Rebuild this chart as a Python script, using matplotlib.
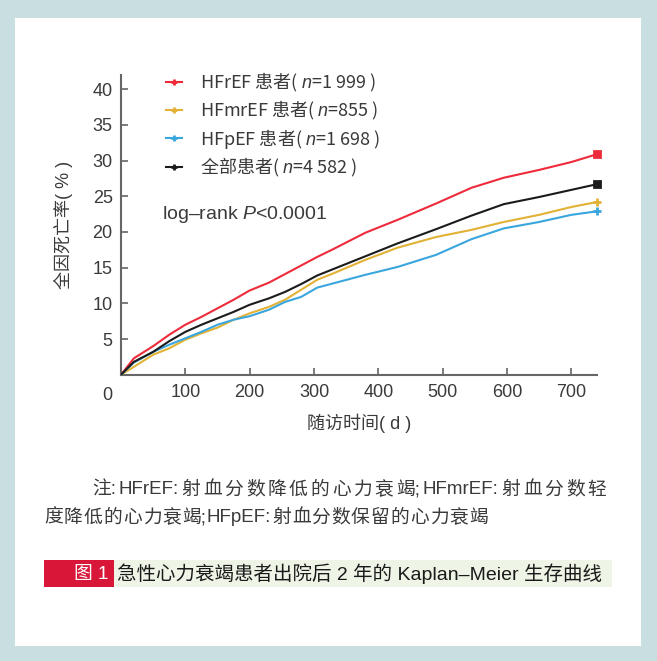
import re
import matplotlib
matplotlib.use("Agg")
import matplotlib.pyplot as plt
from matplotlib.lines import Line2D
from matplotlib.patches import Rectangle

plt.rcParams['font.family'] = ['Liberation Sans', 'Noto Sans CJK SC', 'DejaVu Sans']
plt.rcParams['mathtext.fontset'] = 'custom'
plt.rcParams['mathtext.it'] = 'Liberation Sans:italic'
plt.rcParams['mathtext.rm'] = 'Liberation Sans'

# follow-up days and cumulative all-cause mortality (%)
days = [0, 20, 50, 75, 100, 125, 150, 175, 200, 230, 255, 280, 305, 330,
        380, 430, 490, 545, 595, 650, 700, 740]
hfref = [0, 2.3, 4.0, 5.6, 7.0, 8.1, 9.3, 10.5, 11.8, 12.9, 14.1, 15.3, 16.5, 17.6,
         19.9, 21.7, 24.0, 26.2, 27.6, 28.7, 29.8, 30.9]
hfmref = [0, 1.1, 2.8, 3.7, 4.9, 5.8, 6.6, 7.7, 8.6, 9.5, 10.5, 11.9, 13.3, 14.2,
          16.1, 17.8, 19.3, 20.3, 21.4, 22.4, 23.5, 24.2]
hfpef = [0, 1.7, 3.2, 4.2, 5.1, 6.0, 7.0, 7.7, 8.2, 9.1, 10.2, 10.9, 12.2, 12.8,
         14.0, 15.1, 16.8, 19.0, 20.5, 21.4, 22.4, 22.9]
overall = [0, 1.8, 3.2, 4.7, 6.0, 7.0, 7.9, 8.8, 9.8, 10.7, 11.6, 12.7, 13.9, 14.8,
           16.6, 18.4, 20.4, 22.3, 23.9, 24.9, 25.9, 26.7]

labels = ['HFrEF 患者( $\\it{n}$=1 999 )', 'HFmrEF 患者( $\\it{n}$=855 )',
          'HFpEF 患者( $\\it{n}$=1 698 )', '全部患者( $\\it{n}$=4 582 )']
colors = ['#ee2b3b', '#e2b236', '#3aa6de', '#1b1b1b']
end_markers = ['s', '+', '+', 's']

xticks = [0, 100, 200, 300, 400, 500, 600, 700]
yticks = [5, 10, 15, 20, 25, 30, 35, 40]

note1 = '注:HFrEF: 射血分数降低的心力衰竭;HFmrEF: 射血分数轻'
note2 = '度降低的心力衰竭;HFpEF: 射血分数保留的心力衰竭'

txt = '#3a3a3a'
fig = plt.figure(figsize=(6.57, 6.61), dpi=100)
fig.patch.set_facecolor('#c9dee1')
fig.patches.append(Rectangle((15 / 657, 15 / 661), 626 / 657, 628 / 661,
                             transform=fig.transFigure, facecolor='white',
                             edgecolor='none', zorder=-5))

ax = fig.add_axes([121 / 657, 1 - 374.7 / 661, 476 / 657, 299.7 / 661])
ax.set_facecolor('none')

series = [hfref, hfmref, hfpef, overall]
handles = []
for ys, c, m, lab in zip(series, colors, end_markers, labels):
    ax.plot(days, ys, color=c, lw=1.5, zorder=3)
    ms = 5 if m == 's' else 6
    ax.plot(days[-1], ys[-1], marker=m, color=c, ms=ms, mew=2, clip_on=False, zorder=4)
    handles.append(Line2D([], [], color=c, lw=1.5, marker='+', ms=5, mew=2))

ax.set_xlim(0, 740)
ax.set_ylim(0, 42)
ax.set_xticks(xticks)
ax.set_xticklabels([''] + [str(v) for v in xticks[1:]])
ax.set_yticks(yticks)
ax.tick_params(direction='in', length=5, width=1.2, color='#666666',
               labelsize=13, labelcolor=txt)
ax.tick_params(axis='x', pad=7)
ax.tick_params(axis='y', pad=6)
for s in ['top', 'right']:
    ax.spines[s].set_visible(False)
for s in ['left', 'bottom']:
    ax.spines[s].set_color('#666666')
    ax.spines[s].set_linewidth(1.5)

ax.annotate('0', xy=(0, 0), xycoords='axes fraction', xytext=(-10, -9),
            textcoords='offset points', ha='center', va='top', fontsize=13, color=txt)

ax.set_xlabel('随访时间( d )', fontsize=13, color=txt, labelpad=9)
ax.set_ylabel('全因死亡率( % )', fontsize=13, color=txt, labelpad=14)

# legend text goes through mathtext (italic n), so give it a family that has CJK glyphs
ax.legend(handles, labels, loc='upper left', bbox_to_anchor=(0.075, 1.045),
          frameon=False, prop={'family': 'Noto Sans CJK SC', 'size': 13},
          handlelength=0.9, handletextpad=1.0,
          labelspacing=0.28, borderpad=0, labelcolor=txt)

ax.text(63, 22.4, 'log–rank $\\it{P}$<0.0001', fontsize=14, color=txt, va='center')


def justify(line, x0, x1, y, size=13.5):
    # spread the note tokens (CJK characters, latin words) evenly between x0 and x1
    r = fig.canvas.get_renderer()
    tokens = re.findall(r'[A-Za-z]+[:;]?|[^\sA-Za-z][:;]?', line)
    widths = []
    for tok in tokens:
        t = fig.text(0, 0, tok, fontsize=size)
        widths.append(t.get_window_extent(r).width)
        t.remove()
    gap = (x1 - x0 - sum(widths)) / (len(tokens) - 1)
    x = x0
    for tok, w in zip(tokens, widths):
        fig.text(x / 657, 1 - y / 661, tok, fontsize=size, color=txt, va='center')
        x += w + gap


justify(note1, 92, 606, 490)
justify(note2, 44, 488, 518)

# figure caption bar
fig.patches.append(Rectangle((44 / 657, 1 - 587 / 661), 70 / 657, 27 / 661,
                             transform=fig.transFigure, facecolor='#d81638',
                             edgecolor='none', zorder=1))
fig.patches.append(Rectangle((114 / 657, 1 - 587 / 661), 498 / 657, 27 / 661,
                             transform=fig.transFigure, facecolor='#eef4e6',
                             edgecolor='none', zorder=1))
fig.text(108 / 657, 1 - 574 / 661, '图 1', fontsize=13.5, color='white',
         ha='right', va='center')
fig.text(117 / 657, 1 - 574 / 661, '急性心力衰竭患者出院后 2 年的 Kaplan–Meier 生存曲线',
         fontsize=14, color='#1a1a1a', ha='left', va='center', fontweight='medium')

fig.savefig('out.png', dpi=100, facecolor=fig.get_facecolor())
